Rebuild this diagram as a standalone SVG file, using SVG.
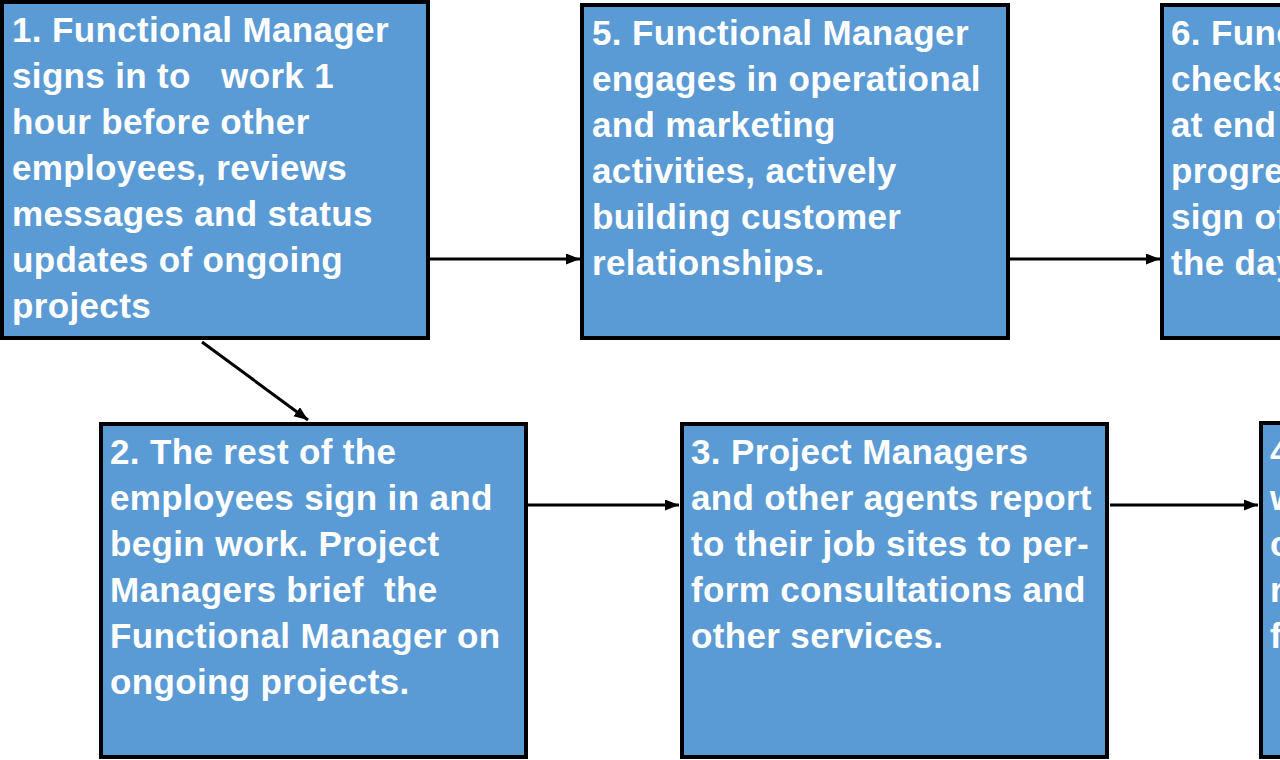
<svg xmlns="http://www.w3.org/2000/svg" width="1280" height="760" viewBox="0 0 1280 760">
<style>
.box{fill:#5b9bd5;stroke:#000;stroke-width:4}
.t{font-family:"Liberation Sans",Arial,sans-serif;font-weight:bold;font-size:35px;fill:#fff;letter-spacing:0.35px}
.c{stroke:#000;stroke-width:3;fill:none}
</style>
<defs>
<marker id="ah" markerUnits="userSpaceOnUse" markerWidth="16" markerHeight="12" refX="14" refY="5.5" orient="auto">
<path d="M0,0 L14,5.5 L0,11 Z" fill="#000"/>
</marker>
</defs>
<rect width="1280" height="760" fill="#fff"/>
<g id="connectors">
<line class="c" x1="430" y1="259" x2="580" y2="259" marker-end="url(#ah)"/>
<line class="c" x1="1010" y1="259" x2="1160" y2="259" marker-end="url(#ah)"/>
<line class="c" x1="202" y1="342" x2="308" y2="420" marker-end="url(#ah)"/>
<line class="c" x1="528" y1="505" x2="679" y2="505" marker-end="url(#ah)"/>
<line class="c" x1="1110" y1="505" x2="1258" y2="505" marker-end="url(#ah)"/>
</g>
<g id="node1">
<rect class="box" x="2" y="2" width="426" height="336"/>
<text class="t" x="12" y="42">1. Functional Manager</text>
<text class="t" x="12" y="88" xml:space="preserve">signs in to   work 1</text>
<text class="t" x="12" y="134">hour before other</text>
<text class="t" x="12" y="180">employees, reviews</text>
<text class="t" x="12" y="226">messages and status</text>
<text class="t" x="12" y="272">updates of ongoing</text>
<text class="t" x="12" y="318">projects</text>
</g>
<g id="node5">
<rect class="box" x="582" y="5" width="426" height="333"/>
<text class="t" x="592" y="45">5. Functional Manager</text>
<text class="t" x="592" y="91">engages in operational</text>
<text class="t" x="592" y="137">and marketing</text>
<text class="t" x="592" y="183">activities, actively</text>
<text class="t" x="592" y="229">building customer</text>
<text class="t" x="592" y="275">relationships.</text>
</g>
<g id="node6">
<rect class="box" x="1162" y="5" width="140" height="333"/>
<text class="t" x="1171" y="45">6. Func</text>
<text class="t" x="1171" y="91">checks</text>
<text class="t" x="1171" y="137">at end</text>
<text class="t" x="1171" y="183">progre</text>
<text class="t" x="1171" y="229">sign of</text>
<text class="t" x="1171" y="275">the day</text>
</g>
<g id="node2">
<rect class="box" x="101" y="424" width="425" height="333"/>
<text class="t" x="110" y="464">2. The rest of the</text>
<text class="t" x="110" y="510">employees sign in and</text>
<text class="t" x="110" y="556">begin work. Project</text>
<text class="t" x="110" y="602" xml:space="preserve">Managers brief  the</text>
<text class="t" x="110" y="648">Functional Manager on</text>
<text class="t" x="110" y="694">ongoing projects.</text>
</g>
<g id="node3">
<rect class="box" x="682" y="424" width="425" height="333"/>
<text class="t" x="691" y="464">3. Project Managers</text>
<text class="t" x="691" y="510">and other agents report</text>
<text class="t" x="691" y="556">to their job sites to per-</text>
<text class="t" x="691" y="602">form consultations and</text>
<text class="t" x="691" y="648">other services.</text>
</g>
<g id="node4">
<rect class="box" x="1261" y="423" width="60" height="334"/>
<text class="t" x="1270" y="464">4</text>
<text class="t" x="1270" y="510">w</text>
<text class="t" x="1270" y="556">c</text>
<text class="t" x="1270" y="602">r</text>
<text class="t" x="1270" y="648">f</text>
</g>
</svg>
